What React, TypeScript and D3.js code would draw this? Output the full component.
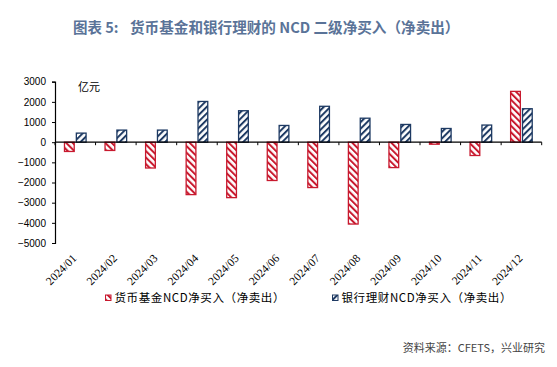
import React, { useEffect, useRef } from "react";
import * as d3 from "d3";

const months = ["2024/01", "2024/02", "2024/03", "2024/04", "2024/05", "2024/06", "2024/07", "2024/08", "2024/09", "2024/10", "2024/11", "2024/12"];
// 货币基金 NCD 净买入（亿元）
const moneyFund = [-460, -410, -1280, -2600, -2750, -1900, -2250, -4060, -1260, -100, -660, 2520];
// 银行理财 NCD 净买入（亿元）
const bankWM = [450, 600, 600, 2020, 1560, 830, 1780, 1190, 880, 680, 850, 1660];
const yTicks = [3000, 2000, 1000, 0, -1000, -2000, -3000, -4000, -5000];
const seriesNames = ["货币基金NCD净买入（净卖出）", "银行理财NCD净买入（净卖出）"];

const W = 557;
const H = 367;
const RED = "#c8192e";
const BLUE = "#1e3a63";

export default function App() {
  const ref = useRef<SVGSVGElement>(null);

  useEffect(() => {
    const svg = d3.select(ref.current);
    svg.selectAll("*").remove();

    const left = 55, right = 541.7, top = 81.7, bottom = 243;

    const defs = svg.append("defs");
    const mkPattern = (id: string, color: string, angle: number) => {
      const p = defs.append("pattern")
        .attr("id", id)
        .attr("patternUnits", "userSpaceOnUse")
        .attr("width", 4.6)
        .attr("height", 4.6)
        .attr("patternTransform", `rotate(${angle})`);
      p.append("rect").attr("width", 4.6).attr("height", 4.6).attr("fill", "#fff");
      p.append("line").attr("x1", 1).attr("x2", 1).attr("y1", 0).attr("y2", 4.6)
        .attr("stroke", color).attr("stroke-width", 2);
    };
    mkPattern("hatchRed", RED, -45);
    mkPattern("hatchBlue", BLUE, 45);

    // title (two parts so the gap after "5:" is kept)
    const titleFont = "'Noto Sans CJK SC', 'Noto Sans', sans-serif";
    svg.append("text")
      .attr("x", 73).attr("y", 33)
      .attr("font-family", titleFont)
      .attr("font-size", 14.5)
      .attr("font-weight", 600)
      .attr("fill", "#5a7398")
      .text("图表 5:");
    svg.append("text")
      .attr("x", 130).attr("y", 33)
      .attr("font-family", titleFont)
      .attr("font-size", 14.6)
      .attr("font-weight", 600)
      .attr("fill", "#5a7398")
      .text("货币基金和银行理财的 NCD 二级净买入（净卖出）");

    const x = d3.scaleBand<string>().domain(months).range([left, right]);
    const y = d3.scaleLinear().domain([-5000, 3000]).range([bottom, top]);
    const bw = x.bandwidth();
    const inner = d3.scaleBand<number>().domain([0, 1]).range([bw / 2 - 10.8, bw / 2 + 10.8]).paddingInner(0.18);

    const g = svg.append("g");

    const series = [
      { vals: moneyFund, fill: "url(#hatchRed)", stroke: RED },
      { vals: bankWM, fill: "url(#hatchBlue)", stroke: BLUE },
    ];
    series.forEach((s, si) => {
      g.selectAll(`.bar${si}`)
        .data(s.vals)
        .enter()
        .append("rect")
        .attr("x", (_d, i) => (x(months[i]) as number) + (inner(si) as number))
        .attr("width", inner.bandwidth())
        .attr("y", (d) => y(Math.max(0, d)))
        .attr("height", (d) => Math.abs(y(d) - y(0)))
        .attr("fill", s.fill)
        .attr("stroke", s.stroke)
        .attr("stroke-width", 1.3);
    });

    // y axis
    const yAxis = svg.append("g")
      .attr("transform", `translate(${left},0)`)
      .call(d3.axisLeft(y).tickValues(yTicks).tickSize(3).tickPadding(6).tickFormat(d3.format("d")));
    yAxis.select(".domain").attr("stroke", "#000").attr("stroke-width", 1.2);
    yAxis.selectAll(".tick line").attr("stroke", "#000");
    yAxis.selectAll("text")
      .attr("font-family", "Arial, 'Liberation Sans', sans-serif")
      .attr("font-size", 10)
      .attr("fill", "#000");

    // x axis at zero
    const xAxisG = svg.append("g").attr("transform", `translate(0,${y(0)})`);
    xAxisG.append("line")
      .attr("x1", left).attr("x2", right)
      .attr("stroke", "#000").attr("stroke-width", 1.2);
    xAxisG.selectAll(".xt")
      .data(d3.range(months.length + 1))
      .enter()
      .append("line")
      .attr("x1", (i) => left + i * x.step())
      .attr("x2", (i) => left + i * x.step())
      .attr("y1", 0).attr("y2", 3)
      .attr("stroke", "#000");

    // x labels
    svg.selectAll(".xl")
      .data(months)
      .enter()
      .append("text")
      .attr("transform", (d) => `translate(${(x(d) as number) + bw / 2 + 2},${259}) rotate(-45)`)
      .attr("text-anchor", "end")
      .attr("font-family", "'Liberation Serif', 'Times New Roman', serif")
      .attr("font-size", 11.5)
      .attr("fill", "#000")
      .text((d) => d);

    // unit label
    svg.append("text")
      .attr("x", 78).attr("y", 91)
      .attr("font-family", "'Noto Sans CJK SC', sans-serif")
      .attr("font-size", 11)
      .attr("fill", "#000")
      .text("亿元");

    // legend
    const legendX = [105.5, 332.5];
    series.forEach((s, si) => {
      svg.append("rect")
        .attr("x", legendX[si]).attr("y", 295)
        .attr("width", 5.5).attr("height", 5.5)
        .attr("fill", s.fill)
        .attr("stroke", s.stroke)
        .attr("stroke-width", 1);
      svg.append("text")
        .attr("x", legendX[si] + 9).attr("y", 302)
        .attr("font-family", "'Noto Sans CJK SC', sans-serif")
        .attr("font-size", 11.5)
        .attr("letter-spacing", 0.6)
        .attr("fill", "#000")
        .text(seriesNames[si]);
    });

    // source
    svg.append("text")
      .attr("x", 545).attr("y", 352)
      .attr("text-anchor", "end")
      .attr("font-family", "'Noto Sans CJK SC', sans-serif")
      .attr("font-size", 11)
      .attr("fill", "#444")
      .text("资料来源：CFETS，兴业研究");
  }, []);

  return (
    <div style={{ position: "absolute", left: 0, top: 0 }}>
      <svg ref={ref} width={W} height={H} style={{ display: "block", background: "#fff" }} />
    </div>
  );
}
